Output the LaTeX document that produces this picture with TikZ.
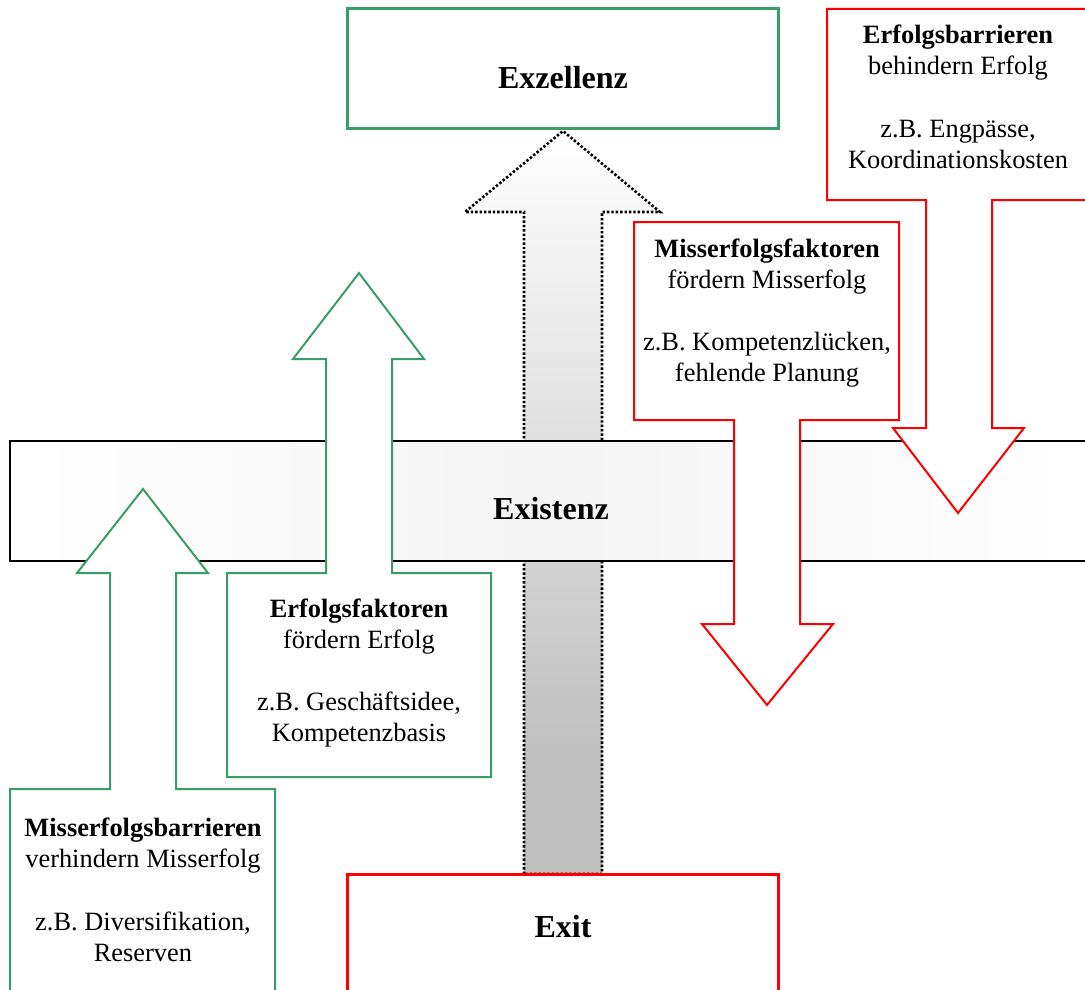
\documentclass[tikz,border=0pt]{standalone}
\usepackage{fontspec}
\setmainfont{Liberation Serif}
\usetikzlibrary{fadings}
\definecolor{boxgreen}{RGB}{56,158,104}
\definecolor{boxred}{RGB}{255,0,0}
% grey at the foot of the central arrow, fading to white at its tip
\pgfdeclareverticalshading{shaftgray}{100bp}{color(0bp)=(black!25); color(33bp)=(black!25); color(75bp)=(white); color(100bp)=(white)}
% lightens the upper and lower edges of the band
\tikzfading[name=bandedges, top color=transparent!35, middle color=transparent!100, bottom color=transparent!35]
\begin{document}
\begin{tikzpicture}[x=1pt,y=-1pt,
  txt/.style={font=\fontsize{26.4}{31.2}\selectfont, align=center, inner sep=0pt},
  title/.style={font=\fontsize{32}{38}\selectfont\bfseries, inner sep=0pt},
  greenshape/.style={draw=boxgreen, line width=2pt, fill=white, line join=miter},
  redshape/.style={draw=boxred, line width=2pt, fill=white, line join=miter},
]
\useasboundingbox (0,0) rectangle (1085,990);
\clip (0,0) rectangle (1085,990);

% central arrow from Exit up to Exzellenz
\path[shading=shaftgray, draw=black, line width=2.6pt, dash pattern=on 2.4pt off 2pt]
  (524,874) -- (524,212) -- (465,212) -- (563,131) -- (660,212) -- (602,212) -- (602,874) -- cycle;

% Existenz band
\path[left color=white, right color=white, middle color=black!11]
  (10,441) rectangle (1095,561);
\fill[white, path fading=bandedges] (10,441) rectangle (1095,561);
\draw[line width=2pt] (10,441) rectangle (1095,561);
\node[title] (existenz) at (551,509) {Existenz};

% Erfolgsbarrieren: box with arrow pointing down
\draw[redshape] (827,9) -- (1100,9) -- (1100,200) -- (992,200) -- (992,428) -- (1024,428)
  -- (958,513) -- (893,428) -- (926,428) -- (926,200) -- (827,200) -- cycle;
\node[txt] (eb) at (958,97) {\textbf{Erfolgsbarrieren}\\behindern Erfolg\\[31.2pt]z.B. Engpässe,\\Koordinationskosten};

% Misserfolgsfaktoren: box with arrow pointing down
\draw[redshape] (634,222) -- (899,222) -- (899,420) -- (800,420) -- (800,624) -- (833,624)
  -- (767,705) -- (702,624) -- (734,624) -- (734,420) -- (634,420) -- cycle;
\node[txt] (mf) at (767,313) {\textbf{Misserfolgsfaktoren}\\fördern Misserfolg\\[31.2pt]z.B. Kompetenzlücken,\\fehlende Planung};

% Erfolgsfaktoren: box with arrow pointing up
\draw[greenshape] (326,573) -- (326,359) -- (293,359) -- (359,273) -- (424,359) -- (392,359)
  -- (392,573) -- (491,573) -- (491,777) -- (227,777) -- (227,573) -- cycle;
\node[txt] (ef) at (359,673) {\textbf{Erfolgsfaktoren}\\fördern Erfolg\\[31.2pt]z.B. Geschäftsidee,\\Kompetenzbasis};

% Misserfolgsbarrieren: box with arrow pointing up
\draw[greenshape] (110,789) -- (110,573) -- (77,573) -- (143,489) -- (208,573) -- (176,573)
  -- (176,789) -- (275,789) -- (275,1000) -- (10,1000) -- (10,789) -- cycle;
\node[txt] (mb) at (143,890) {\textbf{Misserfolgsbarrieren}\\verhindern Misserfolg\\[31.2pt]z.B. Diversifikation,\\Reserven};

% Exzellenz and Exit
\draw[draw=boxgreen, line width=3pt, fill=white] (347,9) rectangle (778,128);
\node[title] (exzellenz) at (563,78) {Exzellenz};
\draw[draw=boxred, line width=3pt, fill=white] (347,874) rectangle (778,1000);
\node[title] (exit) at (563,927) {Exit};
\end{tikzpicture}
\end{document}
